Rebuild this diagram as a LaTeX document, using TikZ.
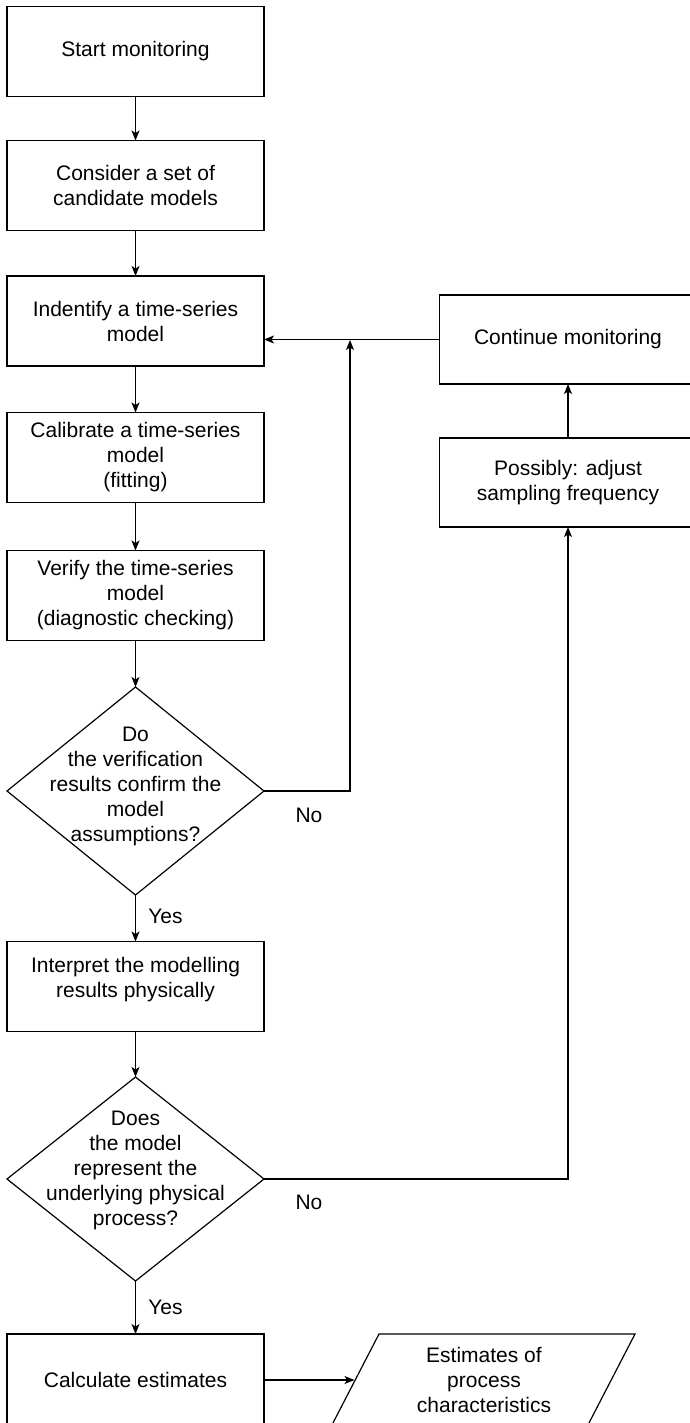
\documentclass[tikz,border=0pt]{standalone}
\usepackage{fontspec}
\setmainfont{Liberation Sans}
\usetikzlibrary{arrows.meta,shapes.geometric}
\begin{document}
\begin{tikzpicture}[x=1pt,y=-1pt,
  every node/.style={font=\fontsize{21}{25}\selectfont, align=center, inner sep=0pt, outer sep=0pt},
  procbox/.style={draw, line width=1.2pt, minimum width=257pt, minimum height=90pt},
  decision/.style={draw, diamond, line width=1.2pt, minimum width=257pt},
  conn/.style={line width=1.2pt, -{Stealth[length=10pt,width=8pt,inset=2.5pt]}},
  plain/.style={line width=1.2pt},
  lbl/.style={font=\fontsize{21}{25}\selectfont}]
\useasboundingbox (0,0) rectangle (690,1423);
\clip (0,0) rectangle (690,1423);
% left column
\node[procbox] (b1) at (135.5,51.5) {Start monitoring};
\node[procbox] (b2) at (135.5,185.5) {Consider a set of\\candidate models};
\node[procbox] (b3) at (135.5,321) {Indentify a time-series\\model};
\node[procbox] (b4) at (135.5,457.5) {Calibrate a time-series\\model\\(fitting)};
\node[procbox] (b5) at (135.5,595.5) {Verify the time-series\\model\\(diagnostic checking)};
\node[decision, minimum height=208pt] (d1) at (135.5,791) {};
\node (d1t) at (135.5,786) {Do\\the verification\\results confirm the\\model\\assumptions?};
\node[procbox] (b6) at (135.5,986.5) {};
\node (b6t) at (135.5,980) {Interpret the modelling\\results physically};
\node[decision, minimum height=204pt] (d2) at (135.5,1179) {};
\node (d2t) at (135.5,1170) {Does\\the model\\represent the\\underlying physical\\process?};
\node[procbox, minimum height=92pt] (b7) at (135.5,1380) {Calculate estimates};
% right column
\node[procbox, minimum height=89pt] (cont) at (568,339.5) {Continue monitoring};
\node[procbox, minimum height=89pt] (poss) at (568,482.5) {Possibly: adjust\\sampling frequency};
% output parallelogram
\draw[plain] (379,1334) -- (635,1334) -- (587.4,1426) -- (331.4,1426) -- cycle;
\node (est) at (484,1380) {Estimates of\\process\\characteristics};
\coordinate (pin) at (354.5,1380);
\coordinate (j1) at (350,340);
% connectors
\draw[conn] (b1) -- (b2);
\draw[conn] (b2) -- (b3);
\draw[conn] (b3) -- (b4);
\draw[conn] (b4) -- (b5);
\draw[conn] (b5) -- (d1);
\draw[conn] (d1) -- (b6);
\draw[conn] (b6) -- (d2);
\draw[conn] (d2) -- (b7);
\draw[conn] (d1.east) -| (j1);
\draw[conn] (cont.west) -- (cont.west -| b3.east);
\draw[conn] (poss) -- (cont);
\draw[conn] (d2.east) -| (poss.south);
\draw[conn] (b7.east |- pin) -- (pin);
% labels
\node[lbl] (y1) at (165.5,916) {Yes};
\node[lbl] (y2) at (165.5,1307) {Yes};
\node[lbl] (n1) at (309,815) {No};
\node[lbl] (n2) at (309,1202) {No};
\end{tikzpicture}
\end{document}
